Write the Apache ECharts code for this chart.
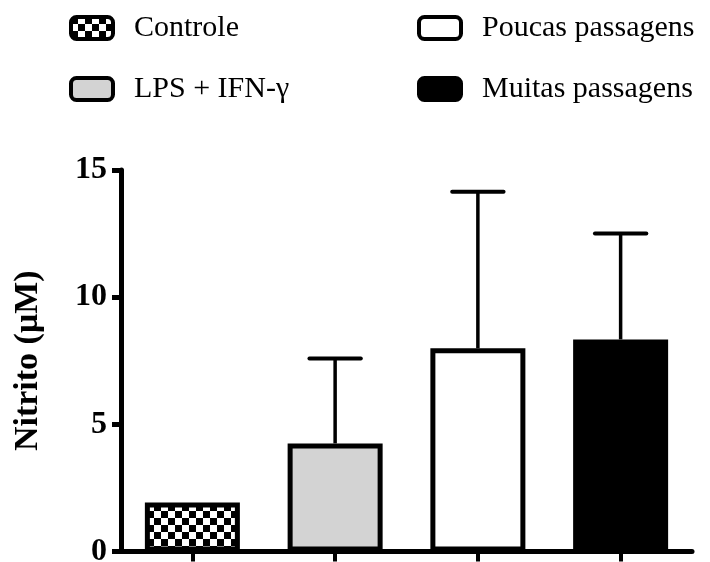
<!DOCTYPE html>
<html><head><meta charset="utf-8">
<script src="https://cdn.jsdelivr.net/npm/echarts@6/dist/echarts.min.js"></script>
<style>html,body{margin:0;padding:0;background:#fff}#c{width:710px;height:562px}</style>
</head><body><div id="c"></div>
<script>
const categories = ['Controle', 'LPS + IFN-γ', 'Poucas passagens', 'Muitas passagens'];
const means = [1.93, 4.25, 7.99, 8.34];
const sd = [0, 3.34, 6.15, 4.16];
const yTicks = [0, 5, 10, 15];

// checkerboard pattern for Controle
const cell = 7;
const pc = document.createElement('canvas');
pc.width = cell * 2; pc.height = cell * 2;
const pctx = pc.getContext('2d');
pctx.fillStyle = '#fff'; pctx.fillRect(0, 0, cell * 2, cell * 2);
pctx.fillStyle = '#000';
pctx.fillRect(0, 0, cell, cell); pctx.fillRect(cell, cell, cell, cell);

const fills = [{image: pc, repeat: 'repeat'}, '#d3d3d3', '#ffffff', '#000000'];
const serif = "'Liberation Serif', 'Times New Roman', serif";

const barSeries = categories.map((name, i) => ({
  name: name,
  type: 'bar',
  barWidth: 95,
  barGap: '-100%',
  data: categories.map((c, j) => j === i ? means[i] : '-'),
  itemStyle: {color: fills[i], borderColor: '#000', borderWidth: 5},
  z: 2
}));

const errSeries = {
  type: 'custom',
  z: 3,
  data: categories.map((c, i) => [i, means[i], means[i] + sd[i]]),
  renderItem: function (params, api) {
    const x = api.value(0), lo = api.value(1), hi = api.value(2);
    if (!(hi > lo)) return null;
    const p0 = api.coord([x, lo]);
    const p1 = api.coord([x, hi]);
    const half = api.size([1, 0])[0] * 0.18;
    return {
      type: 'group',
      children: [
        {type: 'line', shape: {x1: p0[0], y1: p0[1], x2: p1[0], y2: p1[1]}, style: {stroke: '#000', lineWidth: 3.5}},
        {type: 'line', shape: {x1: p1[0] - half, y1: p1[1], x2: p1[0] + half, y2: p1[1]}, style: {stroke: '#000', lineWidth: 4, lineCap: 'round'}}
      ]
    };
  }
};

const legendLeft = [69, 69, 417, 417];
const legendTop = [13, 74, 13, 74];

const option = {
  animation: false,
  backgroundColor: '#fff',
  grid: {left: 121, right: 18, top: 170, bottom: 10.5, outerBoundsMode: 'none', containLabel: false},
  legend: categories.map((name, i) => ({
    data: [name],
    left: legendLeft[i], top: legendTop[i],
    padding: 0,
    itemWidth: 42, itemHeight: 22,
    selectedMode: false,
    itemStyle: {borderColor: '#000', borderWidth: 4},
    textStyle: {fontFamily: serif, fontSize: 30, color: '#000', padding: [0, 0, 0, 16]}
  })),
  xAxis: {
    type: 'category',
    data: categories,
    axisLine: {lineStyle: {color: '#000', width: 5}},
    axisTick: {show: true, interval: 0, alignWithLabel: true, length: 10, lineStyle: {color: '#000', width: 4}},
    axisLabel: {show: false},
    splitLine: {show: false}
  },
  yAxis: {
    type: 'value',
    min: yTicks[0], max: yTicks[yTicks.length - 1], interval: yTicks[1] - yTicks[0],
    name: 'Nitrito (μM)',
    nameLocation: 'middle',
    nameGap: 76,
    nameTextStyle: {fontFamily: serif, fontSize: 34, fontWeight: 'bold', color: '#000'},
    axisLine: {show: true, lineStyle: {color: '#000', width: 5}},
    axisTick: {show: true, length: 9, lineStyle: {color: '#000', width: 5}},
    axisLabel: {fontFamily: serif, fontSize: 32, fontWeight: 'bold', color: '#000', margin: 14},
    splitLine: {show: false}
  },
  series: barSeries.concat([errSeries])
};

const chart = echarts.init(document.getElementById('c'), null, {renderer: 'canvas'});
chart.setOption(option);
</script>
</body></html>
